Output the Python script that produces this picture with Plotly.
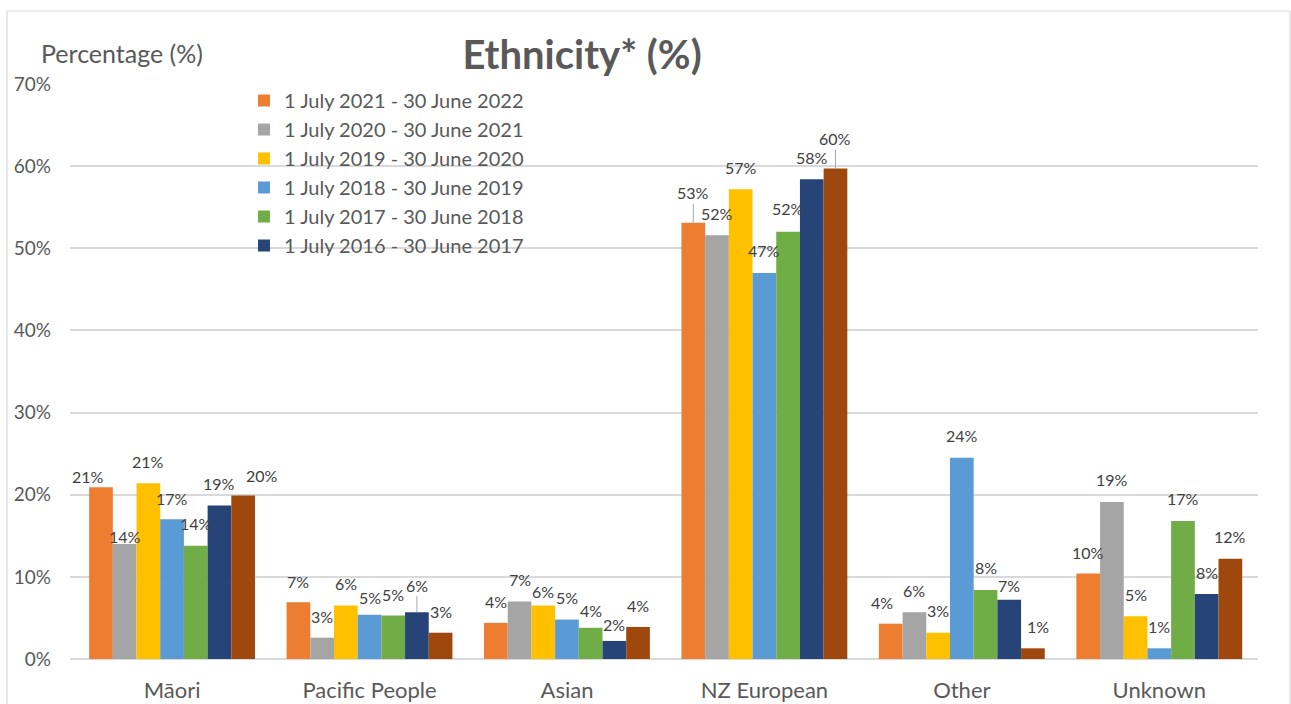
import plotly.graph_objects as go

categories = ["Māori", "Pacific People", "Asian", "NZ European", "Other", "Unknown"]

series_names = [
    "1 July 2021 - 30 June 2022",
    "1 July 2020 - 30 June 2021",
    "1 July 2019 - 30 June 2020",
    "1 July 2018 - 30 June 2019",
    "1 July 2017 - 30 June 2018",
    "1 July 2016 - 30 June 2017",
    "1 July 2015 - 30 June 2016",
]

v_2021_22 = [20.9, 6.9, 4.4, 53.1, 4.3, 10.4]
v_2020_21 = [14.0, 2.6, 7.0, 51.6, 5.7, 19.1]
v_2019_20 = [21.4, 6.5, 6.5, 57.2, 3.2, 5.2]
v_2018_19 = [17.0, 5.4, 4.8, 47.0, 24.5, 1.3]
v_2017_18 = [13.8, 5.3, 3.8, 52.0, 8.4, 16.8]
v_2016_17 = [18.7, 5.7, 2.2, 58.4, 7.2, 7.9]
v_2015_16 = [19.9, 3.2, 3.9, 59.7, 1.3, 12.2]

series_values = [v_2021_22, v_2020_21, v_2019_20, v_2018_19, v_2017_18, v_2016_17, v_2015_16]
colors = ["#ED7D31", "#A5A5A5", "#FFC000", "#5B9BD5", "#70AD47", "#264478", "#9E480E"]
show_in_legend = [True, True, True, True, True, True, False]

# data-label placement styling (pixel offsets of each label centre from its bar top centre)
# rows = series, columns = categories
label_dx = [
    [-13, 0, 0, 0, -9, 0],
    [0, 0, 0, 0, 0, 0],
    [0, 0, 0, 0, 0, 0],
    [0, 0, 0, 0, 0, 0],
    [0, 0, 0, 0, 0, 0],
    [0, 0, 0, 0, 0, 0],
    [19, 0, 0, 0, 5, 0],
]
label_dy = [
    [11, 21, 21, 30, 21, 21],
    [8, 21, 22, 22, 22, 23],
    [22, 22, 14, 22, 22, 22],
    [21, 17, 22, 22, 22, 22],
    [22, 21, 17, 23, 23, 23],
    [22, 27, 16, 22, 14, 22],
    [20, 21, 21, 30, 22, 22],
]
leader = {(0, 3), (6, 3), (5, 1)}

FONT = "Lato"
N = len(series_values)
GAP = 0.16
BW = (1 - GAP) / N

fig = go.Figure()
for name, vals, col, sl in zip(series_names, series_values, colors, show_in_legend):
    fig.add_trace(go.Bar(
        x=categories, y=vals, name=name, showlegend=sl,
        marker=dict(color=col, line=dict(width=0)),
        hovertemplate="%{x}: %{y}%<extra>" + name + "</extra>",
    ))

for i, vals in enumerate(series_values):
    for k, v in enumerate(vals):
        has_leader = (i, k) in leader
        fig.add_annotation(
            x=k + (i - (N - 1) / 2) * BW, y=v, xref="x", yref="y",
            text=f"{round(v)}%", showarrow=True, arrowhead=0, arrowwidth=1,
            arrowcolor="#A6A6A6" if has_leader else "rgba(0,0,0,0)",
            ax=label_dx[i][k], ay=-label_dy[i][k], standoff=0,
            font=dict(family=FONT, size=16, color="#404040"),
        )

fig.update_layout(
    width=1291, height=704,
    barmode="group", bargap=GAP, bargroupgap=0,
    paper_bgcolor="white", plot_bgcolor="white",
    margin=dict(l=70, r=33, t=84, b=45, autoexpand=False),
    font=dict(family=FONT, color="#595959"),
    title=dict(text="<b>Ethnicity* (%)</b>", x=582/1291, xanchor="center",
               y=1 - 55/704, yanchor="middle",
               font=dict(family=FONT, size=40, color="#595959")),
    legend=dict(x=(244 - 70) / 1188, y=1 - (81 - 84) / 575, xanchor="left", yanchor="top",
                bgcolor="rgba(0,0,0,0)", font=dict(family=FONT, size=20, color="#595959"),
                tracegroupgap=0, itemwidth=30),
    showlegend=True,
)

fig.update_yaxes(range=[0, 70], dtick=10, ticksuffix="%",
                 showgrid=True, gridcolor="#D9D9D9", gridwidth=1.5,
                 zeroline=True, zerolinecolor="#D9D9D9", zerolinewidth=1.5,
                 showline=False, ticks="", ticklabelstandoff=18,
                 tickfont=dict(family=FONT, size=19, color="#595959"))
fig.update_xaxes(showline=False, ticks="", ticklabelstandoff=16,
                 tickfont=dict(family=FONT, size=22, color="#595959"))

fig.add_annotation(text="Percentage (%)", xref="paper", yref="paper",
                   x=(39 - 70) / 1188, y=1 + (84 - 53) / 575, xanchor="left", yanchor="middle",
                   showarrow=False, font=dict(family=FONT, size=25, color="#595959"))

fig.add_shape(type="rect", xref="paper", yref="paper",
              x0=(7 - 70) / 1188, x1=(1290 - 70) / 1188,
              y0=-(704 - 659 + 5) / 575, y1=1 + (84 - 11) / 575,
              line=dict(color="#D9D9D9", width=1.2), fillcolor="rgba(0,0,0,0)", layer="below")

fig.write_html("out.html")
